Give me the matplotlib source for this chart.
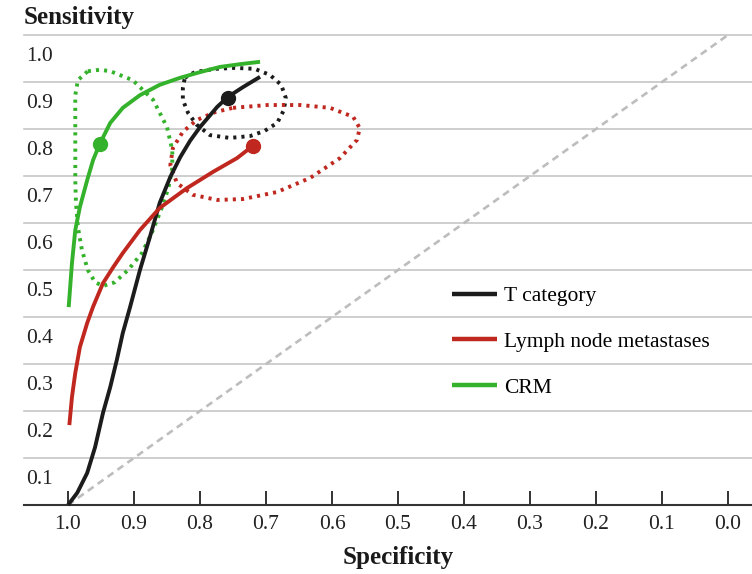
"""SROC curves for T category, lymph node metastases and CRM."""

import matplotlib
matplotlib.use("Agg")
import matplotlib.pyplot as plt

plt.rcParams["font.family"] = ["Liberation Serif", "DejaVu Serif"]

# summary curves (specificity, sensitivity)
t_spec = [1.000, 0.986, 0.971, 0.959, 0.947, 0.936, 0.926, 0.917, 0.906, 0.891,
          0.876, 0.861, 0.845, 0.830, 0.815, 0.800, 0.774, 0.758, 0.735, 0.709]
t_sens = [0.000, 0.026, 0.068, 0.123, 0.196, 0.251, 0.309, 0.366, 0.421, 0.500,
          0.570, 0.643, 0.698, 0.740, 0.775, 0.804, 0.847, 0.868, 0.889, 0.911]

ln_spec = [0.998, 0.994, 0.989, 0.982, 0.971, 0.962, 0.947, 0.932, 0.917, 0.891,
           0.861, 0.820, 0.780, 0.744, 0.720]
ln_sens = [0.170, 0.230, 0.281, 0.336, 0.387, 0.422, 0.472, 0.505, 0.536, 0.585,
           0.632, 0.674, 0.709, 0.738, 0.764]

crm_spec = [0.999, 0.994, 0.989, 0.982, 0.971, 0.962, 0.952, 0.936, 0.917, 0.891,
            0.861, 0.830, 0.800, 0.770, 0.739, 0.709]
crm_sens = [0.421, 0.515, 0.585, 0.634, 0.691, 0.734, 0.768, 0.813, 0.845, 0.872,
            0.894, 0.909, 0.921, 0.932, 0.938, 0.943]

# summary points
t_point = (0.758, 0.866)
ln_point = (0.720, 0.764)
crm_point = (0.952, 0.768)

# 95% confidence regions
t_ci_spec = [0.823, 0.808, 0.777, 0.747, 0.717, 0.694, 0.677, 0.670, 0.673, 0.683,
             0.702, 0.724, 0.755, 0.785, 0.805, 0.818, 0.826, 0.826]
t_ci_sens = [0.909, 0.921, 0.928, 0.930, 0.928, 0.915, 0.894, 0.866, 0.840, 0.813,
             0.796, 0.785, 0.781, 0.787, 0.809, 0.834, 0.862, 0.887]

ln_ci_spec = [0.750, 0.698, 0.648, 0.603, 0.568, 0.558, 0.562, 0.588, 0.633, 0.683,
              0.735, 0.774, 0.811, 0.835, 0.845, 0.841, 0.826, 0.805, 0.777]
ln_ci_sens = [0.845, 0.851, 0.851, 0.845, 0.826, 0.802, 0.777, 0.738, 0.696, 0.666,
              0.651, 0.649, 0.660, 0.685, 0.723, 0.760, 0.794, 0.819, 0.836]

crm_ci_spec = [0.970, 0.952, 0.936, 0.902, 0.871, 0.850, 0.842, 0.842, 0.848, 0.858,
               0.873, 0.888, 0.909, 0.929, 0.947, 0.959, 0.970, 0.979, 0.985, 0.988,
               0.989, 0.989, 0.989, 0.989, 0.985]
crm_ci_sens = [0.923, 0.926, 0.923, 0.904, 0.862, 0.804, 0.755, 0.717, 0.674, 0.632,
               0.579, 0.536, 0.500, 0.474, 0.466, 0.474, 0.500, 0.543, 0.591, 0.643,
               0.691, 0.755, 0.819, 0.872, 0.904]

labels = ["T category", "Lymph node metastases", "CRM"]
colors = ["#1c1c1c", "#c0281f", "#35b22b"]
x_ticks = [1.0, 0.9, 0.8, 0.7, 0.6, 0.5, 0.4, 0.3, 0.2, 0.1, 0.0]
y_ticks = [0.1, 0.2, 0.3, 0.4, 0.5, 0.6, 0.7, 0.8, 0.9, 1.0]


def close(values):
    return list(values) + [values[0]]


fig = plt.figure(figsize=(7.52, 5.74), dpi=100)
ax = fig.add_axes([24 / 752, 69 / 574, 728 / 752, 470 / 574])
ax.set_xlim(1.0667, -0.0364)
ax.set_ylim(0, 1.0)

for v in y_ticks:
    ax.axhline(v, color="#c6c6c6", lw=1.2, zorder=0, clip_on=False)
    ax.text(1.063, v - 0.056, f"{v:.1f}", ha="left", va="baseline",
            fontsize=15.5, color="#222222")

ax.plot([1, 0], [0, 1], color="#bdbdbd", lw=1.9, dashes=(2.7, 1.9), zorder=1)

curves = [(t_spec, t_sens), (ln_spec, ln_sens), (crm_spec, crm_sens)]
regions = [(t_ci_spec, t_ci_sens), (ln_ci_spec, ln_ci_sens), (crm_ci_spec, crm_ci_sens)]
points = [t_point, ln_point, crm_point]

for (rs, rn), c in zip(regions, colors):
    ax.plot(close(rs), close(rn), color=c, lw=2.8, dashes=(0.8, 1.3),
            dash_capstyle="butt", zorder=2, clip_on=False)

for (cs, cn), (ps, pn), c, lab in zip(curves, points, colors, labels):
    ax.plot(cs, cn, color=c, lw=2.8, label=lab, zorder=3, clip_on=False,
            solid_capstyle="butt", solid_joinstyle="round")
    ax.plot([ps], [pn], "o", color=c, ms=10, zorder=4, clip_on=False)

for side in ["top", "left", "right"]:
    ax.spines[side].set_visible(False)
ax.spines["bottom"].set_color("#333333")
ax.spines["bottom"].set_linewidth(1.5)
ax.set_yticks([])
ax.set_xticks(x_ticks)
ax.set_xticklabels([f"{v:.1f}" for v in x_ticks])
ax.tick_params(axis="x", direction="in", length=10, width=1.4, color="#333333",
               pad=7, labelsize=15.5, labelcolor="#222222")

leg = ax.legend(loc="upper left", bbox_to_anchor=(452 / 752, 1 - 286 / 574),
                bbox_transform=fig.transFigure, frameon=False, fontsize=15.5,
                handlelength=2.1, handletextpad=0.3, labelspacing=1.2,
                borderpad=0, borderaxespad=0)
for line in leg.get_lines():
    line.set_linewidth(3.2)

fig.text(24 / 752, 1 - 24 / 574, "Sensitivity", fontsize=18, fontweight="bold",
         ha="left", va="baseline", color="#1a1a1a")
fig.text(398 / 752, 10 / 574, "Specificity", fontsize=18, fontweight="bold",
         ha="center", va="baseline", color="#1a1a1a")

fig.savefig("out.png", dpi=100)
